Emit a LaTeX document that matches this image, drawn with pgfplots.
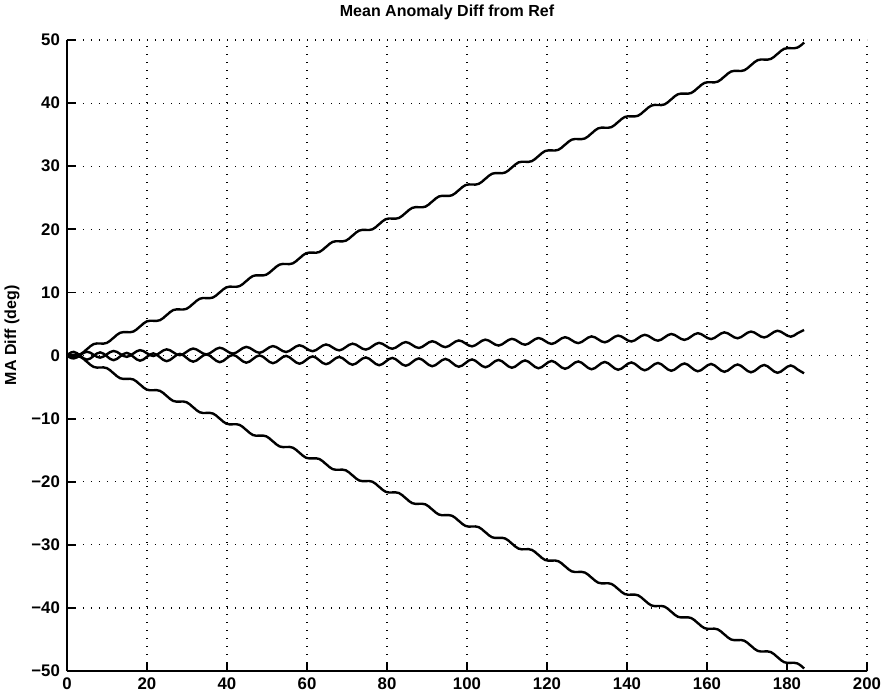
\documentclass[border=0pt]{standalone}
\usepackage{fontspec}
\setmainfont{Liberation Sans}
\usepackage{pgfplots}
\usepackage{pgfplotstable}
\pgfplotsset{compat=1.18}
\pgfplotstableread{
x ub lb us ls
0 0 0 0 0
1.66 0.1 -0.1 -0.468 0.58
3.32 0.2 -0.2 0.064 -0.04
4.98 1.0 -1.0 0.596 -0.66
6.64 1.8 -1.8 0.128 -0.08
8.30 1.9 -1.9 -0.34 0.5
9.96 2.0 -2.0 0.192 -0.12
11.62 2.8 -2.8 0.724 -0.74
13.28 3.6 -3.6 0.256 -0.16
14.94 3.7 -3.7 -0.212 0.42
16.60 3.8 -3.8 0.32 -0.2
18.26 4.6 -4.6 0.852 -0.82
19.92 5.4 -5.4 0.384 -0.24
21.58 5.5 -5.5 -0.084 0.34
23.24 5.6 -5.6 0.448 -0.28
24.90 6.4 -6.4 0.98 -0.9
26.56 7.2 -7.2 0.512 -0.32
28.22 7.3 -7.3 0.044 0.26
29.88 7.4 -7.4 0.576 -0.36
31.54 8.2 -8.2 1.108 -0.98
33.20 9.0 -9.0 0.64 -0.4
34.86 9.1 -9.1 0.172 0.18
36.52 9.2 -9.2 0.704 -0.44
38.18 10.0 -10.0 1.236 -1.06
39.84 10.8 -10.8 0.768 -0.48
41.50 10.9 -10.9 0.3 0.1
43.16 11.0 -11.0 0.832 -0.52
44.82 11.8 -11.8 1.364 -1.14
46.48 12.6 -12.6 0.896 -0.56
48.14 12.7 -12.7 0.428 0.02
49.80 12.8 -12.8 0.96 -0.6
51.46 13.6 -13.6 1.492 -1.22
53.12 14.4 -14.4 1.024 -0.64
54.78 14.5 -14.5 0.556 -0.06
56.44 14.6 -14.6 1.088 -0.68
58.10 15.4 -15.4 1.62 -1.3
59.76 16.2 -16.2 1.152 -0.72
61.42 16.3 -16.3 0.684 -0.14
63.08 16.4 -16.4 1.216 -0.76
64.74 17.2 -17.2 1.748 -1.38
66.40 18.0 -18.0 1.28 -0.8
68.06 18.1 -18.1 0.812 -0.22
69.72 18.2 -18.2 1.344 -0.84
71.38 19.0 -19.0 1.876 -1.46
73.04 19.8 -19.8 1.408 -0.88
74.70 19.9 -19.9 0.94 -0.3
76.36 20.0 -20.0 1.472 -0.92
78.02 20.8 -20.8 2.004 -1.54
79.68 21.6 -21.6 1.536 -0.96
81.34 21.7 -21.7 1.068 -0.38
83.00 21.8 -21.8 1.6 -1.0
84.66 22.6 -22.6 2.132 -1.62
86.32 23.4 -23.4 1.664 -1.04
87.98 23.5 -23.5 1.196 -0.46
89.64 23.6 -23.6 1.728 -1.08
91.30 24.4 -24.4 2.26 -1.7
92.96 25.2 -25.2 1.792 -1.12
94.62 25.3 -25.3 1.324 -0.54
96.28 25.4 -25.4 1.856 -1.16
97.94 26.2 -26.2 2.388 -1.78
99.60 27.0 -27.0 1.92 -1.2
101.26 27.1 -27.1 1.452 -0.62
102.92 27.2 -27.2 1.984 -1.24
104.58 28.0 -28.0 2.516 -1.86
106.24 28.8 -28.8 2.048 -1.28
107.90 28.9 -28.9 1.58 -0.7
109.56 29.0 -29.0 2.112 -1.32
111.22 29.8 -29.8 2.644 -1.94
112.88 30.6 -30.6 2.176 -1.36
114.54 30.7 -30.7 1.708 -0.78
116.20 30.8 -30.8 2.24 -1.4
117.86 31.6 -31.6 2.772 -2.02
119.52 32.4 -32.4 2.304 -1.44
121.18 32.5 -32.5 1.836 -0.86
122.84 32.6 -32.6 2.368 -1.48
124.50 33.4 -33.4 2.9 -2.1
126.16 34.2 -34.2 2.432 -1.52
127.82 34.3 -34.3 1.964 -0.94
129.48 34.4 -34.4 2.496 -1.56
131.14 35.2 -35.2 3.028 -2.18
132.80 36.0 -36.0 2.56 -1.6
134.46 36.1 -36.1 2.092 -1.02
136.12 36.2 -36.2 2.624 -1.64
137.78 37.0 -37.0 3.156 -2.26
139.44 37.8 -37.8 2.688 -1.68
141.10 37.9 -37.9 2.22 -1.1
142.76 38.0 -38.0 2.752 -1.72
144.42 38.8 -38.8 3.284 -2.34
146.08 39.6 -39.6 2.816 -1.76
147.74 39.7 -39.7 2.348 -1.18
149.40 39.8 -39.8 2.88 -1.8
151.06 40.6 -40.6 3.412 -2.42
152.72 41.4 -41.4 2.944 -1.84
154.38 41.5 -41.5 2.476 -1.26
156.04 41.6 -41.6 3.008 -1.88
157.70 42.4 -42.4 3.54 -2.5
159.36 43.2 -43.2 3.072 -1.92
161.02 43.3 -43.3 2.604 -1.34
162.68 43.4 -43.4 3.136 -1.96
164.34 44.2 -44.2 3.668 -2.58
166.00 45.0 -45.0 3.2 -2.0
167.66 45.1 -45.1 2.732 -1.42
169.32 45.2 -45.2 3.264 -2.04
170.98 46.0 -46.0 3.796 -2.66
172.64 46.8 -46.8 3.328 -2.08
174.30 46.9 -46.9 2.86 -1.5
175.96 47.0 -47.0 3.392 -2.12
177.62 47.8 -47.8 3.924 -2.74
179.28 48.6 -48.6 3.456 -2.16
180.94 48.7 -48.7 2.988 -1.58
182.60 48.8 -48.8 3.52 -2.2
184.26 49.6 -49.6 4.052 -2.82
}\data
\begin{document}
\begin{tikzpicture}
\begin{axis}[
  name=ax,
  scale only axis,
  width=400pt, height=315.5pt,
  xmin=0, xmax=200, ymin=-50, ymax=50,
  enlargelimits=false,
  axis x line=bottom, axis y line=left,
  axis line style={-, line width=1.2pt, black},
  xtick={0,20,...,200},
  ytick={-50,-40,...,50},
  xticklabels={0,20,40,60,80,100,120,140,160,180,200},
  yticklabels={−50,−40,−30,−20,−10,0,10,20,30,40,50},
  tick align=inside,
  major tick length=4.5pt,
  tick style={line width=0.9pt, black},
  ticklabel style={font=\fontsize{8.4}{10}\selectfont\bfseries},
  grid=major,
  grid style={line width=0.6pt, black, dash pattern=on 0.6pt off 3.4pt},
  every axis title shift=0pt,
  title={Mean Anomaly Diff from Ref},
  title style={at={(axis description cs:0.475,1)}, anchor=base, yshift=11.5pt, font=\fontsize{8}{10}\selectfont\bfseries},
  ylabel={MA Diff (deg)},
  ylabel style={at={(axis description cs:-0.06875,0.532)}, anchor=center, font=\fontsize{8}{10}\selectfont\bfseries},
]
\addplot[black, line width=1.2pt, smooth, tension=0.85, no marks] table[x=x, y=ub]{\data};
\addplot[black, line width=1.2pt, smooth, tension=0.85, no marks] table[x=x, y=lb]{\data};
\addplot[black, line width=1.2pt, smooth, tension=0.85, no marks] table[x=x, y=us]{\data};
\addplot[black, line width=1.2pt, smooth, tension=0.85, no marks] table[x=x, y=ls]{\data};
\end{axis}
\pgfresetboundingbox
\path ([xshift=-33.5pt,yshift=-12.5pt]ax.south west) rectangle ([xshift=7.5pt,yshift=20pt]ax.north east);
\end{tikzpicture}
\end{document}
